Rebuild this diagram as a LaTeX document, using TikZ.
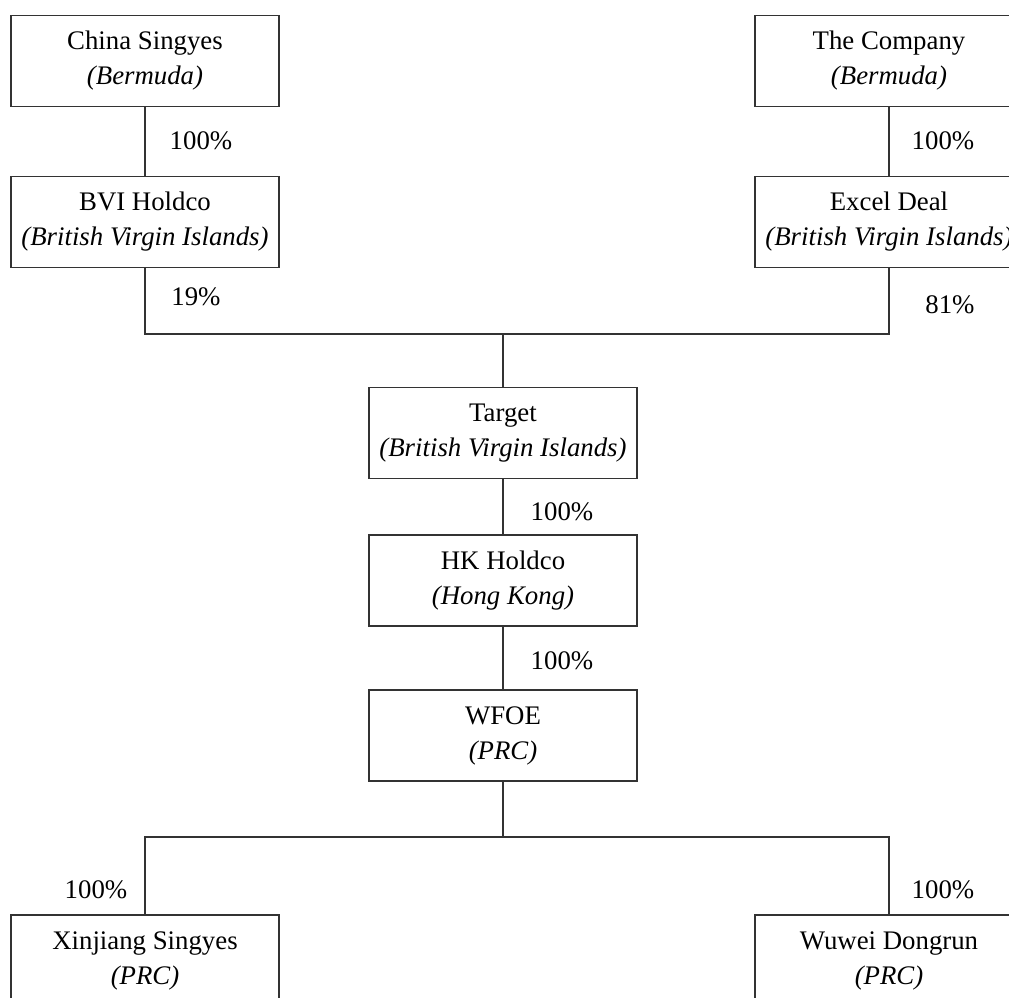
\documentclass[tikz,border=0pt]{standalone}
\usepackage{fontspec}
\setmainfont{Liberation Serif}

\begin{document}
\begin{tikzpicture}[x=1pt, y=-1pt,
    entity/.style={draw=black!80, line width=1.2pt, rectangle, minimum width=268, minimum height=91,
        align=center, inner sep=0pt, font=\fontsize{26.8}{35}\selectfont},
    share/.style={font=\fontsize{26.8}{30}\selectfont, inner sep=0pt},
    link/.style={draw=black!80, line width=1.2pt}]
    \useasboundingbox (0,0) rectangle (1009,997);
    \clip (0,0) rectangle (1009,997);

    % Shareholders
    \node[entity] (china) at (145, 61) {China Singyes\\\textit{(Bermuda)}};
    \node[entity] (bvi) at (145, 222) {BVI Holdco\\\textit{(British Virgin Islands)}};
    \node[entity] (company) at (889, 61) {The Company\\\textit{(Bermuda)}};
    \node[entity] (excel) at (889, 222) {Excel Deal\\\textit{(British Virgin Islands)}};

    % Middle chain
    \node[entity] (target) at (503, 433) {Target\\\textit{(British Virgin Islands)}};
    \node[entity] (hk) at (503, 580.5) {HK Holdco\\\textit{(Hong Kong)}};
    \node[entity] (wfoe) at (503, 735.5) {WFOE\\\textit{(PRC)}};

    % Subsidiaries
    \node[entity] (xinjiang) at (145, 960.5) {Xinjiang Singyes\\\textit{(PRC)}};
    \node[entity] (wuwei) at (889, 960.5) {Wuwei Dongrun\\\textit{(PRC)}};

    % Junctions
    \coordinate (topjoin) at (503, 334);
    \coordinate (botjoin) at (503, 837);

    % Connectors
    \draw[link] (china) -- (bvi);
    \draw[link] (company) -- (excel);
    \draw[link] (bvi.south) |- (topjoin) -| (excel.south);
    \draw[link] (topjoin) -- (target);
    \draw[link] (target) -- (hk);
    \draw[link] (hk) -- (wfoe);
    \draw[link] (wfoe) -- (botjoin);
    \draw[link] (xinjiang.north) |- (botjoin) -| (wuwei.north);

    % Percentages
    \node[share] (pchina) at (201, 141) {100\%};
    \node[share] (pbvi) at (196, 297) {19\%};
    \node[share] (pcompany) at (943, 141) {100\%};
    \node[share] (pexcel) at (950, 305) {81\%};
    \node[share] (ptarget) at (562, 512) {100\%};
    \node[share] (phk) at (562, 661) {100\%};
    \node[share] (pxinjiang) at (96, 890) {100\%};
    \node[share] (pwuwei) at (943, 890) {100\%};
\end{tikzpicture}
\end{document}
